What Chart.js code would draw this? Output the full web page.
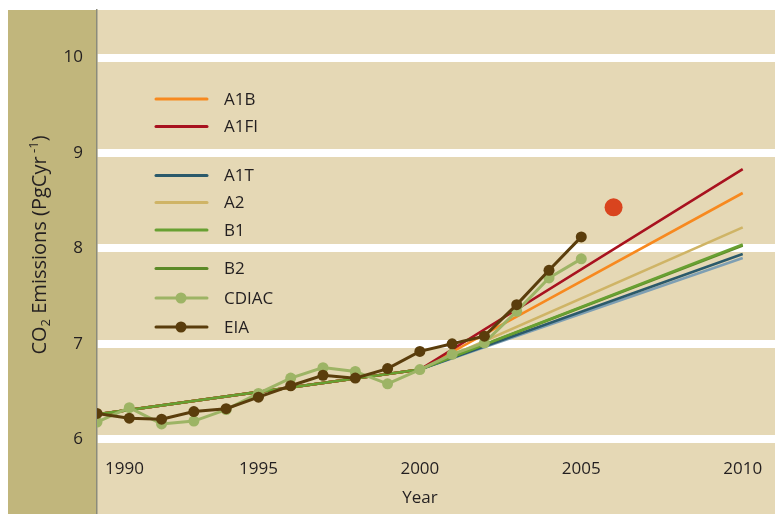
<!DOCTYPE html>
<html>
<head>
<meta charset="utf-8">
<script src="https://cdn.jsdelivr.net/npm/chart.js@4.4.1/dist/chart.umd.min.js"></script>
<style>
  html, body { margin: 0; padding: 0; background: #fff; }
  canvas { display: block; }
</style>
</head>
<body>
<canvas id="co2Chart" width="775" height="514"></canvas>
<script>
// 관측값 (1990-2005)
const histYears = [1990, 1991, 1992, 1993, 1994, 1995, 1996, 1997, 1998, 1999, 2000, 2001, 2002, 2003, 2004, 2005];
const cdiacValues = [6.18, 6.33, 6.16, 6.19, 6.31, 6.48, 6.64, 6.75, 6.71, 6.58, 6.73, 6.89, 7.01, 7.34, 7.69, 7.89];
const eiaValues = [6.27, 6.22, 6.21, 6.29, 6.32, 6.44, 6.56, 6.67, 6.64, 6.74, 6.92, 7.00, 7.08, 7.41, 7.77, 8.12];

// SRES 시나리오
const scenarioYears = [1990, 2000, 2010];
const a1bValues = [6.26, 6.73, 8.58];
const a1fiValues = [6.26, 6.73, 8.83];
const a1tValues = [6.26, 6.73, 7.94];
const a1tLowValues = [6.26, 6.73, 7.90];
const a2Values = [6.26, 6.73, 8.22];
const b1Values = [6.26, 6.73, 8.04];
const b2Values = [6.26, 6.73, 8.03];

// 2006 추정치
const obsYears = [2006];
const obsValues = [8.43];

// 축 눈금
const xTickYears = [1990, 1995, 2000, 2005, 2010];
const yTickValues = [6, 7, 8, 9, 10];

const FONT = '"Open Sans", "DejaVu Sans", sans-serif';
const TEXT_COLOR = '#231F20';

function toPoints(xs, ys) {
    return xs.map((x, i) => ({ x: x, y: ys[i] }));
}

function lineSet(label, xs, ys, color, order, withPoints) {
    return {
        label: label,
        data: toPoints(xs, ys),
        borderColor: color,
        backgroundColor: color,
        borderWidth: withPoints ? 3 : 2.6,
        pointRadius: withPoints ? 5.5 : 0,
        pointBorderWidth: 0,
        pointBackgroundColor: color,
        tension: 0,
        order: order
    };
}

const datasets = [
    lineSet('EIA', histYears, eiaValues, '#5A3D0C', 0, true),
    lineSet('CDIAC', histYears, cdiacValues, '#9DB465', 1, true),
    {
        label: '2006',
        data: toPoints(obsYears, obsValues),
        showLine: false,
        pointRadius: 9,
        pointBorderWidth: 0,
        pointBackgroundColor: '#D9441E',
        order: 2
    },
    lineSet('B1', scenarioYears, b1Values, '#68A032', 3, false),
    lineSet('A1FI', scenarioYears, a1fiValues, '#A8121F', 4, false),
    lineSet('A1B', scenarioYears, a1bValues, '#F7891F', 5, false),
    lineSet('A2', scenarioYears, a2Values, '#CFB466', 6, false),
    lineSet('B2', scenarioYears, b2Values, '#5C8A27', 7, false),
    lineSet('A1T', scenarioYears, a1tValues, '#2B5A6B', 8, false),
    lineSet('A1T low', scenarioYears, a1tLowValues, '#7E9FB3', 9, false)
];

// 범례 행 (그룹 사이 간격 포함)
const legendRows = [
    { label: 'A1B', y: 99 },
    { label: 'A1FI', y: 126.5 },
    { label: 'A1T', y: 175.5 },
    { label: 'A2', y: 202.5 },
    { label: 'B1', y: 230 },
    { label: 'B2', y: 268.5 },
    { label: 'CDIAC', y: 298 },
    { label: 'EIA', y: 327 }
];

// 배경 패널
const backgroundPlugin = {
    id: 'panels',
    beforeDraw(chart) {
        const { ctx, chartArea: a } = chart;
        ctx.save();
        ctx.fillStyle = '#ffffff';
        ctx.fillRect(0, 0, chart.width, chart.height);
        ctx.fillStyle = '#C1B67C';
        ctx.fillRect(8, a.top, a.left - 8, a.bottom - a.top);
        ctx.fillStyle = '#E5D8B5';
        ctx.fillRect(a.left, a.top, a.right - a.left, a.bottom - a.top);
        ctx.restore();
    }
};

// 축 제목, x축 라벨, 범례
const annotatePlugin = {
    id: 'annotate',
    afterDraw(chart) {
        const { ctx, chartArea: a } = chart;
        const xScale = chart.scales.x;
        ctx.save();
        ctx.fillStyle = TEXT_COLOR;

        // x 눈금 라벨
        ctx.font = '17px ' + FONT;
        ctx.textAlign = 'center';
        ctx.textBaseline = 'middle';
        xTickYears.forEach(year => {
            const text = String(year);
            const w = ctx.measureText(text).width;
            let px = xScale.getPixelForValue(year);
            px = Math.max(px, a.left + 8 + w / 2);
            ctx.fillText(text, px, 469);
        });
        ctx.fillText('Year', xScale.getPixelForValue(2000), 498);

        // y축 제목 (아래첨자/위첨자)
        ctx.save();
        ctx.translate(46, 245);
        ctx.rotate(-Math.PI / 2);
        ctx.textAlign = 'left';
        ctx.textBaseline = 'alphabetic';
        const parts = [
            { t: 'CO', size: 20, dy: 0 },
            { t: '2', size: 13, dy: 4 },
            { t: ' Emissions (PgCyr', size: 20, dy: 0 },
            { t: ' -1', size: 13, dy: -8 },
            { t: ')', size: 20, dy: 0 }
        ];
        let total = 0;
        parts.forEach(p => {
            ctx.font = p.size + 'px ' + FONT;
            p.w = ctx.measureText(p.t).width;
            total += p.w;
        });
        let cx = -total / 2;
        parts.forEach(p => {
            ctx.font = p.size + 'px ' + FONT;
            ctx.fillText(p.t, cx, p.dy);
            cx += p.w;
        });
        ctx.restore();

        // 범례
        ctx.font = '17px ' + FONT;
        ctx.textAlign = 'left';
        ctx.textBaseline = 'middle';
        legendRows.forEach(row => {
            const ds = chart.data.datasets.find(d => d.label === row.label);
            ctx.strokeStyle = ds.borderColor;
            ctx.lineWidth = 3;
            ctx.lineCap = 'round';
            ctx.beginPath();
            ctx.moveTo(156, row.y);
            ctx.lineTo(207, row.y);
            ctx.stroke();
            if (ds.pointRadius > 0) {
                ctx.fillStyle = ds.borderColor;
                ctx.beginPath();
                ctx.arc(181, row.y, ds.pointRadius, 0, Math.PI * 2);
                ctx.fill();
            }
            ctx.fillStyle = TEXT_COLOR;
            ctx.fillText(row.label, 224, row.y + 1);
        });
        ctx.restore();
    }
};

new Chart(document.getElementById('co2Chart').getContext('2d'), {
    type: 'line',
    data: { datasets: datasets },
    options: {
        responsive: false,
        animation: false,
        devicePixelRatio: 1,
        events: [],
        layout: { autoPadding: false, padding: { top: 10, left: 0, right: 0, bottom: 0 } },
        plugins: {
            legend: { display: false },
            tooltip: { enabled: false },
            title: { display: false }
        },
        scales: {
            x: {
                type: 'linear',
                display: false,
                min: 1990,
                max: 2011
            },
            y: {
                type: 'linear',
                min: 5.216,
                max: 10.498,
                afterFit(scale) {
                    scale.width = 97;
                    scale.paddingTop = 0;
                    scale.paddingBottom = 0;
                },
                afterBuildTicks(scale) {
                    scale.ticks = yTickValues.map(v => ({ value: v }));
                },
                grid: {
                    color: '#ffffff',
                    lineWidth: 8,
                    drawTicks: false
                },
                border: { display: true, color: '#8B8B7B', width: 1.5 },
                ticks: {
                    padding: 14,
                    color: TEXT_COLOR,
                    font: { family: FONT, size: 17 },
                    callback: v => String(v)
                }
            }
        }
    },
    plugins: [backgroundPlugin, annotatePlugin]
});
</script>
</body>
</html>
